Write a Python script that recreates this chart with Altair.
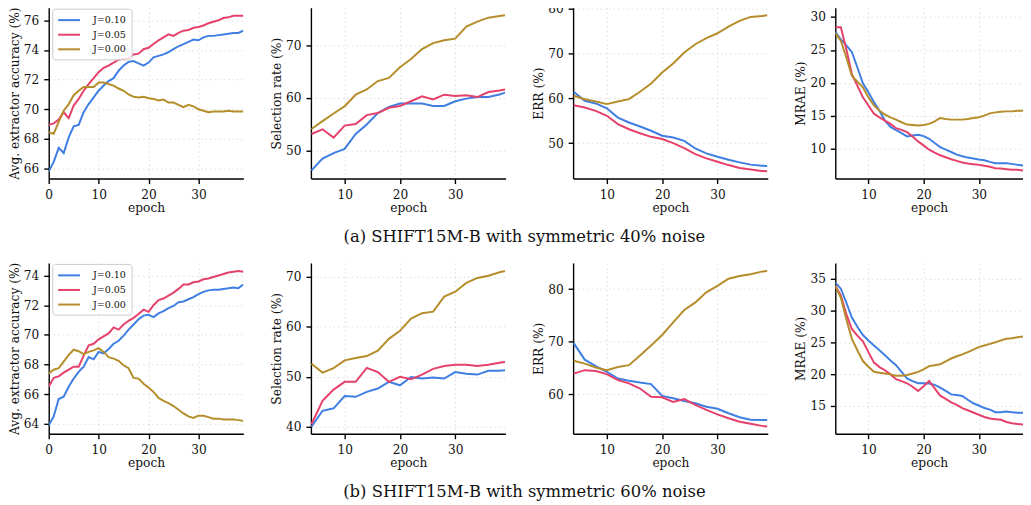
import altair as alt
import pandas as pd

FONT = "DejaVu Serif"
SERIES = ["J=0.10", "J=0.05", "J=0.00"]
COLORS = ["#3f7fe3", "#e5416b", "#b58d2a"]

EPOCHS_ALL = list(range(0, 40))
EPOCHS_SEL = [4, 6, 8, 10, 12, 14, 16, 18, 20, 22, 24, 26, 28, 30, 32, 34, 36, 38, 39]
EPOCHS_MRAE = list(range(4, 40))

# ---------- (a) symmetric 40% noise ----------
a_acc_j10 = [65.8, 66.45, 67.4, 67.05, 68.1, 68.85, 68.95, 69.8, 70.35, 70.8,
             71.25, 71.6, 71.9, 72.1, 72.6, 72.95, 73.2, 73.25, 73.1, 72.95,
             73.15, 73.5, 73.6, 73.7, 73.85, 74.05, 74.25, 74.4, 74.55, 74.7,
             74.65, 74.85, 74.95, 74.95, 75.0, 75.05, 75.1, 75.15, 75.15, 75.3]
a_acc_j05 = [68.95, 69.05, 69.3, 69.8, 69.4, 70.25, 70.7, 71.25, 71.7, 72.1,
             72.5, 72.8, 72.95, 73.15, 73.35, 73.4, 73.45, 73.7, 73.75, 74.05,
             74.15, 74.4, 74.65, 74.85, 75.05, 74.95, 75.15, 75.3, 75.35, 75.5,
             75.55, 75.65, 75.8, 75.9, 76.0, 76.15, 76.2, 76.3, 76.3, 76.3]
a_acc_j00 = [68.45, 68.35, 69.15, 69.9, 70.35, 70.95, 71.25, 71.5, 71.5, 71.5,
             71.8, 71.8, 71.7, 71.6, 71.4, 71.25, 71.0, 70.85, 70.8, 70.85,
             70.75, 70.7, 70.6, 70.65, 70.45, 70.45, 70.3, 70.15, 70.3, 70.2,
             70.0, 69.9, 69.8, 69.85, 69.85, 69.85, 69.9, 69.85, 69.85, 69.85]

a_sel_j10 = [46.15, 48.4, 49.45, 50.25, 53.1, 54.9, 57.1, 58.25, 58.9, 58.9,
             58.9, 58.45, 58.45, 59.35, 59.85, 60.15, 60.15, 60.65, 61.0]
a_sel_j05 = [53.1, 54.0, 52.4, 54.7, 55.0, 56.7, 57.1, 58.1, 58.45, 59.35,
             60.3, 59.7, 60.6, 60.35, 60.5, 60.15, 61.1, 61.4, 61.6]
a_sel_j00 = [54.05, 55.55, 57.0, 58.4, 60.6, 61.6, 63.2, 63.8, 65.85, 67.4,
             69.3, 70.45, 71.0, 71.3, 73.6, 74.55, 75.3, 75.6, 75.75]

a_err_j10 = [61.45, 59.45, 58.85, 57.75, 55.7, 54.6, 53.7, 52.75, 51.65, 51.25,
             50.5, 48.8, 47.7, 46.95, 46.3, 45.7, 45.2, 44.95, 44.9]
a_err_j05 = [58.45, 57.95, 57.2, 56.1, 54.25, 53.1, 52.2, 51.4, 50.9, 50.0,
             48.9, 47.55, 46.6, 45.85, 45.1, 44.45, 44.1, 43.8, 43.7]
a_err_j00 = [60.55, 59.8, 59.3, 58.7, 59.3, 59.8, 61.45, 63.3, 65.75, 67.75,
             70.2, 72.05, 73.4, 74.5, 76.0, 77.25, 78.15, 78.35, 78.5]

a_mrae_j10 = [27.75, 26.6, 25.7, 24.7, 22.35, 19.95, 18.6, 17.1, 15.8, 14.3,
              13.35, 12.85, 12.4, 11.9, 12.05, 12.15, 11.95, 11.55, 10.9, 10.3,
              9.9, 9.55, 9.15, 8.9, 8.7, 8.55, 8.4, 8.3, 8.05, 7.85,
              7.85, 7.85, 7.75, 7.6, 7.5, 7.45]
a_mrae_j05 = [28.45, 28.45, 25.1, 21.35, 19.6, 17.85, 16.6, 15.35, 14.8, 14.3,
              13.8, 13.15, 12.9, 12.55, 11.9, 11.15, 10.55, 9.9, 9.45, 9.05,
              8.75, 8.45, 8.2, 7.95, 7.8, 7.7, 7.6, 7.45, 7.3, 7.1,
              7.05, 6.95, 6.85, 6.85, 6.75, 6.75]
a_mrae_j00 = [27.55, 26.4, 23.85, 21.1, 20.2, 19.35, 17.85, 16.6, 15.8, 15.2,
              14.8, 14.45, 14.05, 13.7, 13.65, 13.55, 13.65, 13.8, 14.2, 14.7,
              14.55, 14.45, 14.45, 14.45, 14.55, 14.7, 14.8, 15.05, 15.4, 15.55,
              15.65, 15.7, 15.7, 15.8, 15.8, 15.9]

# ---------- (b) symmetric 60% noise ----------
b_acc_j10 = [63.9, 64.5, 65.67, 65.83, 66.5, 67.05, 67.5, 67.85, 68.5, 68.35,
             68.85, 68.75, 69.05, 69.4, 69.6, 69.95, 70.35, 70.7, 71.05, 71.3,
             71.35, 71.2, 71.45, 71.6, 71.8, 71.95, 72.2, 72.25, 72.4, 72.55,
             72.75, 72.9, 73.0, 73.05, 73.05, 73.1, 73.15, 73.2, 73.15, 73.4]
b_acc_j05 = [66.5, 67.1, 67.2, 67.45, 67.65, 67.85, 67.85, 68.6, 69.3, 69.4,
             69.7, 69.9, 70.1, 70.5, 70.35, 70.7, 70.95, 71.15, 71.4, 71.7,
             71.55, 72.0, 72.35, 72.45, 72.65, 72.85, 73.1, 73.4, 73.4, 73.55,
             73.6, 73.75, 73.8, 73.9, 74.0, 74.1, 74.2, 74.25, 74.3, 74.25]
b_acc_j00 = [67.4, 67.65, 67.75, 68.2, 68.65, 69.0, 68.9, 68.7, 68.85, 68.95,
             69.1, 68.85, 68.5, 68.4, 68.25, 67.95, 67.75, 67.1, 67.05, 66.7,
             66.45, 66.15, 65.75, 65.55, 65.4, 65.2, 64.95, 64.7, 64.5, 64.4,
             64.55, 64.55, 64.45, 64.35, 64.35, 64.3, 64.3, 64.3, 64.25, 64.2]

b_sel_j10 = [40.0, 43.2, 43.7, 46.15, 46.0, 47.0, 47.65, 49.0, 48.3, 49.95,
             49.65, 49.85, 49.65, 50.95, 50.6, 50.45, 51.2, 51.2, 51.3]
b_sel_j05 = [40.5, 45.2, 47.45, 49.0, 49.0, 51.8, 50.95, 49.0, 50.0, 49.5,
             50.45, 51.6, 52.15, 52.4, 52.4, 52.15, 52.4, 52.8, 52.95]
b_sel_j00 = [52.6, 50.85, 51.75, 53.3, 53.75, 54.15, 55.25, 57.6, 59.2, 61.65,
             62.75, 63.05, 66.05, 67.05, 68.8, 69.8, 70.25, 70.95, 71.2]

b_err_j10 = [69.75, 66.6, 65.35, 64.3, 63.0, 62.6, 62.25, 61.95, 59.7, 59.25,
             58.75, 58.3, 57.65, 57.25, 56.4, 55.65, 55.15, 55.1, 55.1]
b_err_j05 = [63.95, 64.6, 64.45, 63.85, 62.7, 62.1, 61.1, 59.55, 59.45, 58.55,
             59.1, 58.0, 57.05, 56.2, 55.45, 54.8, 54.4, 54.0, 53.9]
b_err_j00 = [66.4, 65.85, 65.1, 64.6, 65.2, 65.55, 67.4, 69.3, 71.3, 73.7,
             76.05, 77.5, 79.4, 80.65, 82.0, 82.5, 82.85, 83.35, 83.45]

b_mrae_j10 = [34.4, 33.45, 31.25, 28.9, 27.45, 26.15, 25.3, 24.5, 23.75, 22.95,
              22.15, 21.4, 20.35, 19.3, 18.9, 18.55, 18.55, 18.5, 18.3, 17.85,
              17.35, 16.8, 16.7, 16.55, 15.95, 15.4, 15.05, 14.65, 14.4, 14.0,
              14.0, 14.1, 14.0, 13.9, 13.9, 13.9]
b_mrae_j05 = [33.95, 32.4, 29.45, 27.1, 26.05, 25.15, 23.45, 21.8, 21.1, 20.6,
              19.95, 19.2, 18.9, 18.55, 18.0, 17.35, 18.1, 18.9, 17.75, 16.6,
              16.1, 15.55, 15.15, 14.65, 14.3, 13.95, 13.6, 13.25, 13.0, 12.9,
              12.8, 12.45, 12.25, 12.15, 12.05, 12.05]
b_mrae_j00 = [33.85, 32.05, 28.65, 25.55, 23.75, 22.05, 21.15, 20.35, 20.2, 20.1,
              19.95, 19.75, 19.75, 19.85, 20.1, 20.35, 20.75, 21.25, 21.4, 21.55,
              22.0, 22.45, 22.8, 23.1, 23.45, 23.85, 24.25, 24.5, 24.75, 25.0,
              25.3, 25.55, 25.65, 25.8, 25.9, 25.9]

CAPTION_A = "(a) SHIFT15M-B with symmetric 40% noise"
CAPTION_B = "(b) SHIFT15M-B with symmetric 60% noise"

PANEL_H = 172


def panel(epochs, vals, ytitle, xdom, ydom, xticks, yticks, width, legend, caption=None):
    leg = None
    if legend:
        leg = alt.Legend(
            orient="none", legendX=3.5, legendY=1, title=None,
            symbolType="M-2,0L2,0", symbolSize=121, symbolStrokeWidth=2,
            symbolOffset=5.5, labelOffset=17.5, rowPadding=2.7,
            labelFont=FONT, labelFontSize=9.6, labelColor="#111",
            fillColor="rgba(255,255,255,0.85)", strokeColor="#cccccc",
            cornerRadius=3, padding=5,
        )
    layers = []
    for name, v in zip(SERIES, vals):
        df = pd.DataFrame({"epoch": epochs, "value": v, "series": name})
        layers.append(
            alt.Chart(df).mark_line(strokeWidth=2, clip=True).encode(
                x=alt.X("epoch:Q",
                        scale=alt.Scale(domain=xdom, nice=False, zero=False),
                        axis=alt.Axis(values=xticks, title="epoch", format="d")),
                y=alt.Y("value:Q",
                        scale=alt.Scale(domain=ydom, nice=False, zero=False),
                        axis=alt.Axis(values=yticks, title=ytitle, format="d")),
                color=alt.Color("series:N",
                                scale=alt.Scale(domain=SERIES, range=COLORS),
                                legend=leg),
            )
        )
    ch = alt.layer(*layers).properties(width=width, height=PANEL_H)
    if caption:
        ch = ch.properties(title=alt.TitleParams(
            caption, orient="bottom", anchor="middle", frame="group",
            baseline="alphabetic", offset=28, dx=117))
    return ch


def row(acc, sel, err, mrae, doms, caption):
    p1 = panel(EPOCHS_ALL, acc, "Avg. extractor accuracy (%)", [0, 39], doms[0],
               [0, 10, 20, 30], doms[4], 196, True)
    p2 = panel(EPOCHS_SEL, sel, "Selection rate (%)", [3.9, 39.1], doms[1],
               [10, 20, 30], doms[5], 196, False, caption)
    p3 = panel(EPOCHS_SEL, err, "ERR (%)", [3.9, 39.1], doms[2],
               [10, 20, 30], doms[6], 196, False)
    p4 = panel(EPOCHS_MRAE, mrae, "MRAE (%)", [4.0, 38.0], doms[3],
               [10, 20, 30], doms[7], 189, False)
    return [p1, p2, p3, p4]


row_a = row([a_acc_j10, a_acc_j05, a_acc_j00],
            [a_sel_j10, a_sel_j05, a_sel_j00],
            [a_err_j10, a_err_j05, a_err_j00],
            [a_mrae_j10, a_mrae_j05, a_mrae_j00],
            [[65.33, 76.85], [44.6, 77.2], [42.1, 80.2], [5.53, 31.4],
             [66, 68, 70, 72, 74, 76], [50, 60, 70], [50, 60, 70, 80], [10, 15, 20, 25, 30]],
            CAPTION_A)
row_b = row([b_acc_j10, b_acc_j05, b_acc_j00],
            [b_sel_j10, b_sel_j05, b_sel_j00],
            [b_err_j10, b_err_j05, b_err_j00],
            [b_mrae_j10, b_mrae_j05, b_mrae_j00],
            [[63.33, 74.85], [38.6, 72.8], [52.5, 85.0], [10.6, 37.5],
             [64, 66, 68, 70, 72, 74], [40, 50, 60, 70], [60, 70, 80], [15, 20, 25, 30, 35]],
            CAPTION_B)

chart = (
    alt.concat(*(row_a + row_b), columns=4,
               spacing={"row": 85, "column": 68}, bounds="flush")
    .resolve_scale(color="independent")
    .properties(padding={"left": 0, "top": -8, "right": 0, "bottom": 0})
    .configure(font=FONT)
    .configure_axis(
        domainColor="black", domainWidth=1.4, tickColor="black", tickWidth=1.4,
        tickSize=5, labelFont=FONT, titleFont=FONT, labelFontSize=12.2, titleFontSize=12.3,
        labelColor="#111", titleColor="#111", titleFontWeight="normal",
        labelPadding=5, labelFlush=False, labelOverlap=False,
        grid=True, gridColor="#d4d4d4", gridDash=[1.5, 3], gridWidth=0.8,
    )
    .configure_axisX(titlePadding=1)
    .configure_axisY(titlePadding=2)
    .configure_view(stroke=None)
    .configure_title(font=FONT, fontSize=16.5, fontWeight="normal", color="#111")
)

chart.save("out.html", embed_options={"renderer": "svg", "actions": False})
